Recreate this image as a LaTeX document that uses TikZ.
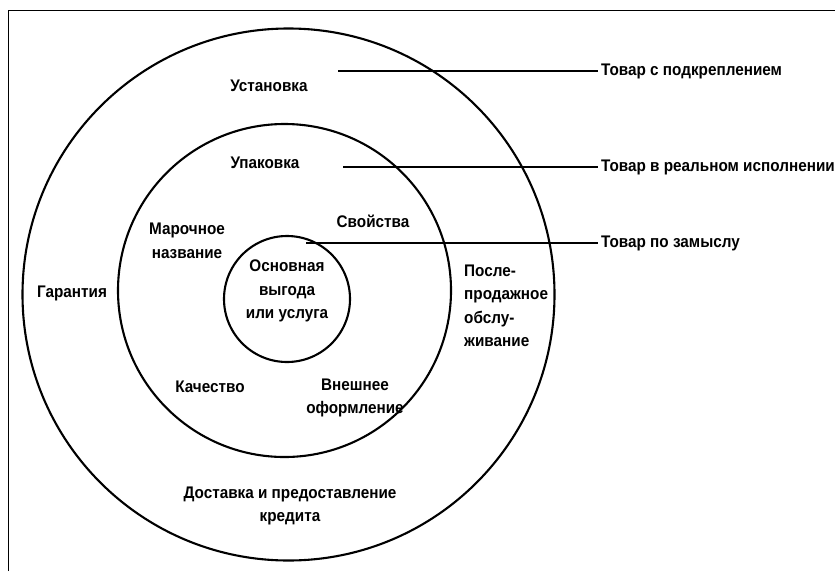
\documentclass[tikz,border=0pt]{standalone}
\usepackage{fontspec}
\setmainfont{Liberation Sans}[FakeStretch=0.91]
\begin{document}
\begin{tikzpicture}[x=1pt,y=-1pt,
  ring/.style={draw, circle, line width=2.1pt, inner sep=0pt},
  lbl/.style={inner sep=0pt, font=\fontsize{16.8}{23.5}\selectfont\bfseries, align=center},
  rlbl/.style={inner xsep=3pt, inner ysep=0pt, anchor=west, font=\fontsize{16.8}{23.5}\selectfont\bfseries},
  lead/.style={line width=2pt}]
\useasboundingbox (0,0) rectangle (835,571);
\fill[white] (0,0) rectangle (835,571);
% frame
\draw[line width=1pt] (8,571) -- (8,10) -- (835,10);
% circles
\node[ring, minimum size=532pt] (outer) at (288.5,294.5) {};
\node[ring, minimum size=333pt] (middle) at (284.5,290.5) {};
\node[ring, minimum size=126pt] (inner) at (287,299) {};
% labels
\node[lbl] (ust) at (269,86) {Установка};
\node[lbl] (upak) at (265,163) {Упаковка};
\node[lbl] (svoi) at (373,221) {Свойства};
\node[lbl] (mark) at (187,241) {Марочное\\название};
\node[lbl] (osn) at (287,291) {Основная\\выгода\\или услуга};
\node[lbl] (gar) at (72,293) {Гарантия};
\node[lbl, align=left, anchor=west] (posle) at (464,306) {После-\\продажное\\обслу-\\живание};
\node[lbl] (kach) at (210,387) {Качество};
\node[lbl] (vnesh) at (355,398) {Внешнее\\оформление};
\node[lbl] (dost) at (290,506) {Доставка и предоставление\\кредита};
% right labels
\node[rlbl] (t1) at (598,71) {Товар с подкреплением};
\node[rlbl] (t2) at (598,167) {Товар в реальном исполнении};
\node[rlbl] (t3) at (598,243) {Товар по замыслу};
% leader lines
\coordinate (s1) at (338,71);
\coordinate (s2) at (343,167);
\coordinate (s3) at (306,243);
\draw[lead] (s1) -- (t1.west);
\draw[lead] (s2) -- (t2.west);
\draw[lead] (s3) -- (t3.west);
\end{tikzpicture}
\end{document}
